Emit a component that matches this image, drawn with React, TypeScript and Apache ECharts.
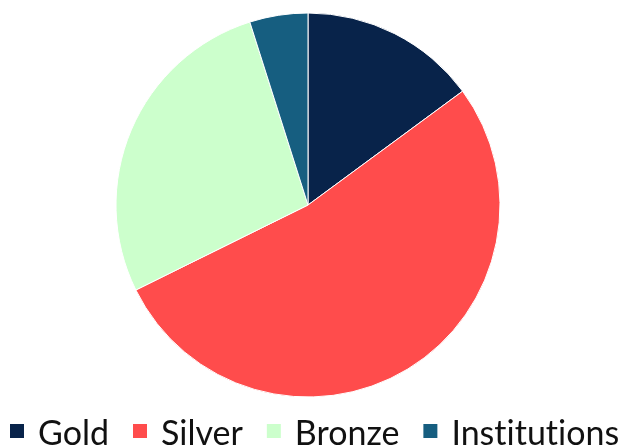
import React, { useEffect, useRef } from "react";
import * as echarts from "echarts";

const categories = ["Gold", "Silver", "Bronze", "Institutions"];
const values = [14.9, 52.8, 27.4, 4.9];
const colors = ["#08234a", "#ff4c4c", "#ccffcc", "#165e80"];

export default function App() {
  const ref = useRef<HTMLDivElement>(null);
  useEffect(() => {
    if (!ref.current) return;
    const chart = echarts.init(ref.current, null, { renderer: "svg" });
    chart.setOption({
      animation: false,
      color: colors,
      legend: {
        data: categories,
        left: 5,
        top: 409,
        width: 660,
        padding: 5,
        icon: "rect",
        itemWidth: 14,
        itemHeight: 14,
        itemGap: 24,
        itemStyle: { borderWidth: 0 },
        textStyle: {
          fontFamily: "Lato",
          fontSize: 34,
          color: "#111",
          padding: [0, 0, 0, 9],
        },
      },
      series: [
        {
          type: "pie",
          center: [308, 205],
          radius: 192,
          startAngle: 90,
          clockwise: true,
          label: { show: false },
          labelLine: { show: false },
          itemStyle: { borderColor: "#ffffff", borderWidth: 1 },
          emphasis: { disabled: true },
          data: categories.map((c, i) => ({ name: c, value: values[i] })),
        },
      ],
    });
    return () => chart.dispose();
  }, []);
  return (
    <>
      <style>{"svg text { font-variant-ligatures: none !important; font-feature-settings: 'liga' 0, 'clig' 0 !important; }"}</style>
      <div
        ref={ref}
        style={{ position: "fixed", left: 0, top: 0, width: 620, height: 445 }}
      />
    </>
  );
}
